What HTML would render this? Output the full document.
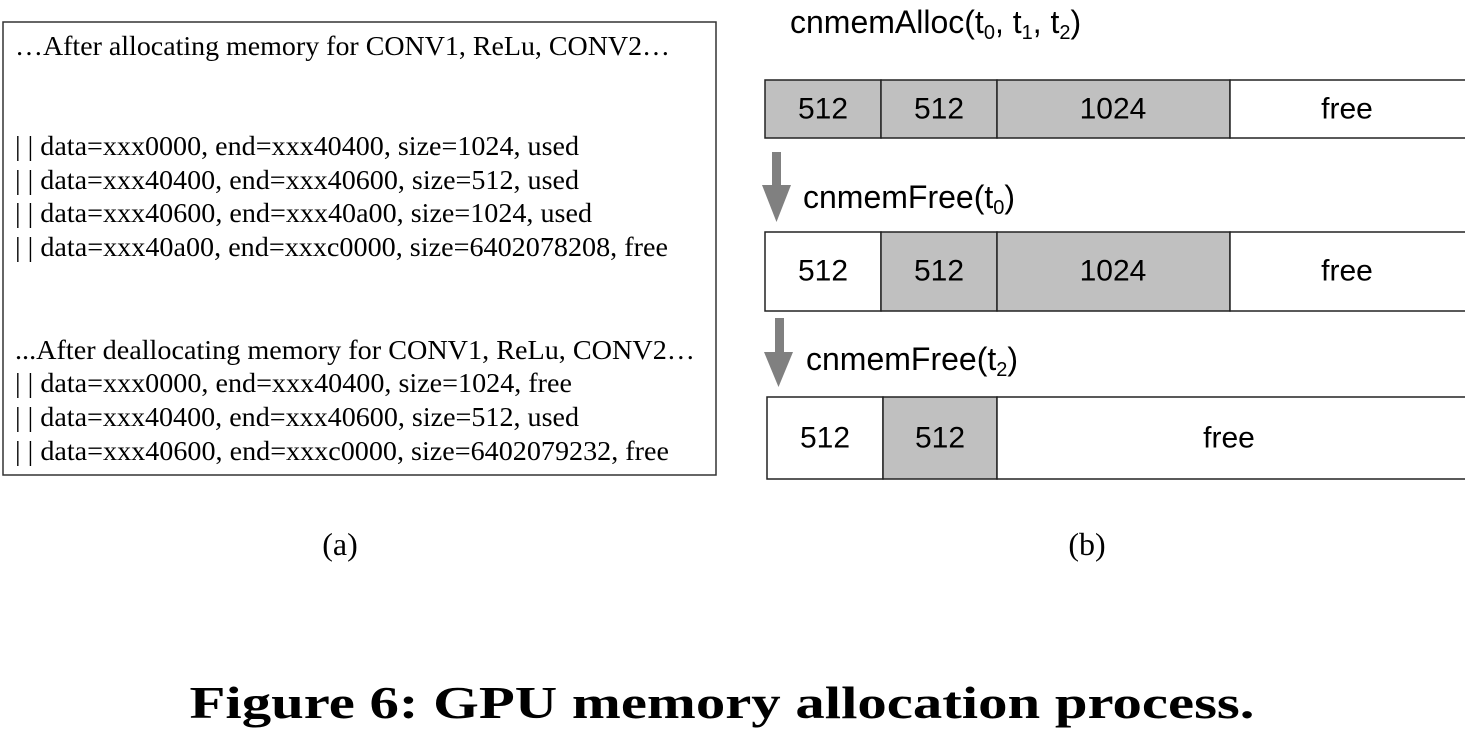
<!DOCTYPE html>
<html><head><meta charset="utf-8"><style>html,body{margin:0;padding:0;background:#fff;}svg{display:block}</style></head>
<body>
<svg width="1465" height="734" viewBox="0 0 1465 734" xmlns="http://www.w3.org/2000/svg">
<rect x="3" y="22" width="713" height="453" fill="#fff" stroke="#333" stroke-width="1.5"/>
<g font-family="Liberation Serif, serif" font-size="27" fill="#000">
<text x="15" y="55" textLength="655" lengthAdjust="spacingAndGlyphs">…After allocating memory for CONV1, ReLu, CONV2…</text>
<text x="15" y="155" textLength="564" lengthAdjust="spacingAndGlyphs">| | data=xxx0000, end=xxx40400, size=1024, used</text>
<text x="15" y="189" textLength="564" lengthAdjust="spacingAndGlyphs">| | data=xxx40400, end=xxx40600, size=512, used</text>
<text x="15" y="222" textLength="577" lengthAdjust="spacingAndGlyphs">| | data=xxx40600, end=xxx40a00, size=1024, used</text>
<text x="15" y="256" textLength="653" lengthAdjust="spacingAndGlyphs">| | data=xxx40a00, end=xxxc0000, size=6402078208, free</text>
<text x="15" y="359" textLength="680" lengthAdjust="spacingAndGlyphs">...After deallocating memory for CONV1, ReLu, CONV2…</text>
<text x="15" y="392" textLength="557" lengthAdjust="spacingAndGlyphs">| | data=xxx0000, end=xxx40400, size=1024, free</text>
<text x="15" y="426" textLength="564" lengthAdjust="spacingAndGlyphs">| | data=xxx40400, end=xxx40600, size=512, used</text>
<text x="15" y="460" textLength="654" lengthAdjust="spacingAndGlyphs">| | data=xxx40600, end=xxxc0000, size=6402079232, free</text>
</g>
<g font-family="Liberation Sans, sans-serif" fill="#000">
<text x="790" y="33" font-size="32">cnmemAlloc(t<tspan font-size="20" dy="6">0</tspan><tspan dy="-6">, t</tspan><tspan font-size="20" dy="6">1</tspan><tspan dy="-6">, t</tspan><tspan font-size="20" dy="6">2</tspan><tspan dy="-6">)</tspan></text>
<text x="803" y="208" font-size="32">cnmemFree(t<tspan font-size="20" dy="6">0</tspan><tspan dy="-6">)</tspan></text>
<text x="806" y="370" font-size="32">cnmemFree(t<tspan font-size="20" dy="6">2</tspan><tspan dy="-6">)</tspan></text>
</g>
<g fill="#808080">
<rect x="772" y="152" width="9" height="38"/><polygon points="762,185 791,185 776.5,222"/>
<rect x="775" y="318" width="9" height="38"/><polygon points="764,352 793,352 778.5,387"/>
</g>
<g stroke="#222" stroke-width="1.5">
<rect x="765" y="80" width="116" height="58" fill="#c0c0c0"/>
<rect x="881" y="80" width="116" height="58" fill="#c0c0c0"/>
<rect x="997" y="80" width="233" height="58" fill="#c0c0c0"/>
<rect x="1230" y="80" width="240" height="58" fill="#fff"/>
<rect x="765" y="232" width="116" height="79" fill="#fff"/>
<rect x="881" y="232" width="116" height="79" fill="#c0c0c0"/>
<rect x="997" y="232" width="233" height="79" fill="#c0c0c0"/>
<rect x="1230" y="232" width="240" height="79" fill="#fff"/>
<rect x="767" y="397" width="116" height="82" fill="#fff"/>
<rect x="883" y="397" width="114" height="82" fill="#c0c0c0"/>
<rect x="997" y="397" width="473" height="82" fill="#fff"/>
</g>
<g font-family="Liberation Sans, sans-serif" font-size="30" fill="#000" text-anchor="middle">
<text x="823" y="109" dominant-baseline="central">512</text>
<text x="939" y="109" dominant-baseline="central">512</text>
<text x="1113" y="109" dominant-baseline="central">1024</text>
<text x="1347" y="109" dominant-baseline="central">free</text>
<text x="823" y="271" dominant-baseline="central">512</text>
<text x="939" y="271" dominant-baseline="central">512</text>
<text x="1113" y="271" dominant-baseline="central">1024</text>
<text x="1347" y="271" dominant-baseline="central">free</text>
<text x="825" y="438" dominant-baseline="central">512</text>
<text x="940" y="438" dominant-baseline="central">512</text>
<text x="1229" y="438" dominant-baseline="central">free</text>
</g>
<g font-family="Liberation Serif, serif" font-size="32" fill="#000" text-anchor="middle">
<text x="340" y="555">(a)</text>
<text x="1087" y="555">(b)</text>
</g>
<text x="722" y="718" font-family="Liberation Serif, serif" font-weight="bold" font-size="46" text-anchor="middle" textLength="1065" lengthAdjust="spacingAndGlyphs">Figure 6: GPU memory allocation process.</text>
</svg>
</body></html>
